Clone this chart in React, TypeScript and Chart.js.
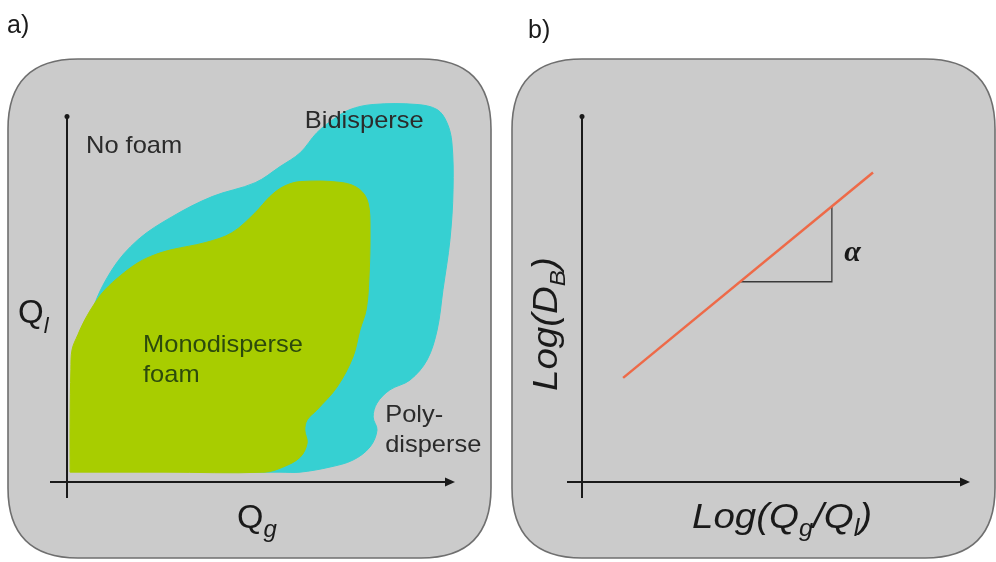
import React, { useEffect, useRef } from "react";
import { Chart, registerables } from "chart.js";
Chart.register(...registerables);

// ---- Panel a: regime map (Qg on x, Ql on y; arbitrary units 0-100) ----
const monoX = [0.8, 0.8, 1.0, 1.3, 2.8, 4.6, 7.2, 9.8, 13.7, 18.3, 22.7, 27.1, 35.6, 42.5, 48.5, 52.3, 55.7, 60.1, 71.1, 75.5, 77.6, 78.1, 77.8, 77.1, 75.5, 73.7, 69.6, 64.4, 61.9, 61.3, 61.9, 60.1, 55.7, 51.0, 25.0];
const monoY = [2.7, 17.0, 30.7, 36.2, 40.3, 44.4, 49.0, 52.6, 56.4, 60.0, 62.2, 63.6, 65.5, 68.2, 73.7, 78.1, 80.8, 82.2, 81.9, 80.0, 76.4, 69.0, 55.3, 47.1, 41.6, 34.2, 26.0, 19.7, 17.0, 14.2, 10.7, 6.8, 4.1, 2.7, 2.7];

const biX = [40.0, 3.4, 6.4, 11.6, 18.3, 27.1, 37.4, 48.5, 54.9, 60.1, 64.4, 68.6, 72.9, 78.9, 90.2, 95.4, 97.9, 99.2, 99.5, 98.7, 96.9, 95.4, 92.8, 88.4, 83.2, 79.9, 78.9, 79.9, 78.1, 73.7, 67.8, 60.1, 54.9];
const biY = [2.7, 27.9, 46.3, 58.1, 66.3, 72.6, 78.1, 81.9, 86.3, 90.1, 95.6, 99.2, 101.9, 103.3, 103.3, 101.9, 98.4, 92.9, 80.0, 66.3, 52.6, 41.6, 33.4, 27.9, 25.2, 21.6, 17.8, 14.2, 9.6, 6.0, 4.1, 2.7, 2.7];

const regionLabels = ["No foam", "Bidisperse", "Monodisperse", "foam", "Poly-", "disperse"];
const regionLabelX = [4.9, 61.3, 19.6, 19.6, 82.0, 82.0];
const regionLabelY = [90.1, 97.0, 35.6, 27.4, 16.4, 8.2];

// ---- Panel b: log-log scaling ----
const fitX = [10.6, 75.0];
const fitY = [28.5, 84.7];
const slopeX = [40.7, 64.4, 64.4];
const slopeY = [54.8, 54.8, 75.45];

const CYAN = "#36d0d2";
const GREEN = "#a8cd00";
const FONT = '"Liberation Sans", Arial, sans-serif';

type Part = { t: string; size: number; it?: boolean; dy?: number };

function toPts(xs: number[], ys: number[], close: boolean) {
  const pts = xs.map((x, i) => ({ x, y: ys[i] }));
  if (close) pts.push({ x: xs[0], y: ys[0] });
  return pts;
}

function drawRich(ctx: CanvasRenderingContext2D, parts: Part[], x: number, y: number, rot = 0, sx = 1, color = "#1a1a1a") {
  ctx.save();
  ctx.translate(x, y);
  if (rot) ctx.rotate(rot);
  ctx.scale(sx, 1);
  ctx.fillStyle = color;
  ctx.textBaseline = "alphabetic";
  ctx.textAlign = "left";
  let cx = 0;
  for (const p of parts) {
    ctx.font = `${p.it ? "italic " : ""}${p.size}px ${FONT}`;
    ctx.fillText(p.t, cx, p.dy || 0);
    cx += ctx.measureText(p.t).width;
  }
  ctx.restore();
}

function roundRect(ctx: CanvasRenderingContext2D, x: number, y: number, w: number, h: number, r: number) {
  ctx.beginPath();
  ctx.moveTo(x + r, y);
  ctx.lineTo(x + w - r, y);
  ctx.quadraticCurveTo(x + w, y, x + w, y + r);
  ctx.lineTo(x + w, y + h - r);
  ctx.quadraticCurveTo(x + w, y + h, x + w - r, y + h);
  ctx.lineTo(x + r, y + h);
  ctx.quadraticCurveTo(x, y + h, x, y + h - r);
  ctx.lineTo(x, y + r);
  ctx.quadraticCurveTo(x, y, x + r, y);
  ctx.closePath();
}

function drawAxes(chart: any, leftExt: number) {
  const ctx: CanvasRenderingContext2D = chart.ctx;
  const xs = chart.scales.x;
  const ys = chart.scales.y;
  const x0 = xs.getPixelForValue(0);
  const y0 = ys.getPixelForValue(0);
  const yTop = ys.getPixelForValue(100);
  const xEnd = xs.getPixelForValue(100);
  ctx.save();
  ctx.strokeStyle = "#1a1a1a";
  ctx.fillStyle = "#1a1a1a";
  ctx.lineWidth = 2;
  ctx.beginPath();
  ctx.moveTo(x0, yTop);
  ctx.lineTo(x0, y0 + 16);
  ctx.stroke();
  ctx.beginPath();
  ctx.arc(x0, yTop, 2.5, 0, Math.PI * 2);
  ctx.fill();
  ctx.beginPath();
  ctx.moveTo(x0 - leftExt, y0);
  ctx.lineTo(xEnd - 8, y0);
  ctx.stroke();
  ctx.beginPath();
  ctx.moveTo(xEnd, y0);
  ctx.lineTo(xEnd - 10, y0 - 4.5);
  ctx.lineTo(xEnd - 10, y0 + 4.5);
  ctx.closePath();
  ctx.fill();
  ctx.restore();
}

function panelBg(rect: number[]) {
  return {
    id: "panelBg",
    beforeDatasetsDraw(chart: any) {
      const ctx: CanvasRenderingContext2D = chart.ctx;
      ctx.save();
      roundRect(ctx, rect[0], rect[1], rect[2], rect[3], 70);
      ctx.fillStyle = "#cbcbcb";
      ctx.fill();
      ctx.lineWidth = 1.6;
      ctx.strokeStyle = "#6f6f6f";
      ctx.stroke();
      ctx.restore();
    },
  };
}

const decorA = {
  id: "decorA",
  afterDatasetsDraw(chart: any) {
    const ctx: CanvasRenderingContext2D = chart.ctx;
    const xs = chart.scales.x;
    const ys = chart.scales.y;
    drawAxes(chart, 17);
    regionLabels.forEach((t, i) => {
      const color = i === 2 || i === 3 ? "#2c4a0c" : "#2b2b2b";
      drawRich(ctx, [{ t, size: 24 }], xs.getPixelForValue(regionLabelX[i]), ys.getPixelForValue(regionLabelY[i]), 0, 1.06, color);
    });
    const x0 = xs.getPixelForValue(0);
    const y0 = ys.getPixelForValue(0);
    drawRich(ctx, [{ t: "Q", size: 33 }, { t: "l", size: 22, it: true, dy: 10 }], x0 - 49, y0 - 159);
    drawRich(ctx, [{ t: "Q", size: 34 }, { t: "g", size: 24, it: true, dy: 9 }], x0 + 170, y0 + 46);
    drawRich(ctx, [{ t: "a)", size: 25 }], 7, 33);
  },
};

const decorB = {
  id: "decorB",
  afterDatasetsDraw(chart: any) {
    const ctx: CanvasRenderingContext2D = chart.ctx;
    const xs = chart.scales.x;
    const ys = chart.scales.y;
    drawAxes(chart, 15);
    const x0 = xs.getPixelForValue(0);
    const y0 = ys.getPixelForValue(0);
    drawRich(
      ctx,
      [
        { t: "Log(Q", size: 35, it: true },
        { t: "g", size: 23, it: true, dy: 8 },
        { t: "/Q", size: 35, it: true },
        { t: "l", size: 23, it: true, dy: 8 },
        { t: ")", size: 35, it: true },
      ],
      x0 + 110,
      y0 + 46,
      0,
      1.1
    );
    drawRich(
      ctx,
      [
        { t: "Log(D", size: 35, it: true },
        { t: "B", size: 22, it: true, dy: 8 },
        { t: ")", size: 35, it: true },
      ],
      x0 - 25,
      y0 - 91,
      -Math.PI / 2,
      1.1
    );
    ctx.save();
    ctx.font = `italic bold 30px "Liberation Serif", "DejaVu Serif", serif`;
    ctx.fillStyle = "#1a1a1a";
    ctx.fillText("\u03b1", xs.getPixelForValue(67.6), ys.getPixelForValue(60.6));
    ctx.restore();
    drawRich(ctx, [{ t: "b)", size: 25 }], 28, 38);
  },
};

export default function App() {
  const refA = useRef<HTMLCanvasElement>(null);
  const refB = useRef<HTMLCanvasElement>(null);

  useEffect(() => {
    const common: any = {
      responsive: false,
      maintainAspectRatio: false,
      animation: false,
      devicePixelRatio: 1,
      events: [],
      plugins: { legend: { display: false }, tooltip: { enabled: false } },
    };
    const chartA = new Chart(refA.current!, {
      type: "scatter",
      data: {
        datasets: [
          {
            data: toPts(monoX, monoY, true),
            showLine: true,
            fill: "shape",
            backgroundColor: GREEN,
            borderColor: GREEN,
            borderWidth: 1,
            pointRadius: 0,
            tension: 0.35,
            clip: false,
          } as any,
          {
            data: toPts(biX, biY, true),
            showLine: true,
            fill: "shape",
            backgroundColor: CYAN,
            borderColor: CYAN,
            borderWidth: 1,
            pointRadius: 0,
            tension: 0.35,
            clip: false,
          } as any,
        ],
      },
      options: {
        ...common,
        layout: { padding: { left: 67, top: 80, right: 45, bottom: 80 } },
        scales: {
          x: { type: "linear", min: 0, max: 100, display: false },
          y: { type: "linear", min: 0, max: 110, display: false },
        },
      },
      plugins: [panelBg([8, 59, 483, 499]), decorA],
    });
    const chartB = new Chart(refB.current!, {
      type: "scatter",
      data: {
        datasets: [
          {
            data: toPts(fitX, fitY, false),
            showLine: true,
            borderColor: "#ee6a48",
            borderWidth: 2.5,
            pointRadius: 0,
            tension: 0,
            clip: false,
          } as any,
          {
            data: toPts(slopeX, slopeY, false),
            showLine: true,
            borderColor: "#3a3a3a",
            borderWidth: 1.3,
            pointRadius: 0,
            tension: 0,
            clip: false,
          } as any,
        ],
      },
      options: {
        ...common,
        layout: { padding: { left: 82, top: 80, right: 26, bottom: 80 } },
        scales: {
          x: { type: "linear", min: 0, max: 100, display: false },
          y: { type: "linear", min: 0, max: 110, display: false },
        },
      },
      plugins: [panelBg([12, 59, 483, 499]), decorB],
    });
    return () => {
      chartA.destroy();
      chartB.destroy();
    };
  }, []);

  return (
    <div style={{ position: "absolute", left: 0, top: 0, width: 996, height: 562, background: "#fff" }}>
      <canvas ref={refA} width={500} height={562} style={{ position: "absolute", left: 0, top: 0, width: 500, height: 562 }} />
      <canvas ref={refB} width={496} height={562} style={{ position: "absolute", left: 500, top: 0, width: 496, height: 562 }} />
    </div>
  );
}
